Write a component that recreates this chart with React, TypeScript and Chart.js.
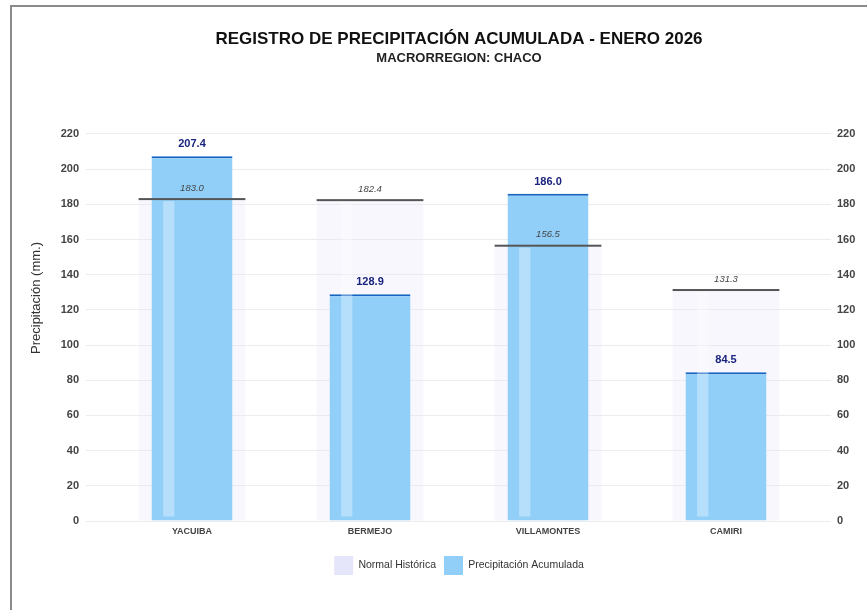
import React, { useEffect, useRef } from 'react';
import { Chart, registerables } from 'chart.js';

Chart.register(...registerables);

const TITLE = 'REGISTRO DE PRECIPITACIÓN ACUMULADA - ENERO 2026';
const SUBTITLE = 'MACRORREGION: CHACO';
const Y_TITLE = 'Precipitación (mm.)';

const categories = ['YACUIBA', 'BERMEJO', 'VILLAMONTES', 'CAMIRI'];
const normalLabel = 'Normal Histórica';
const precipLabel = 'Precipitación Acumulada';
const normalValues = [183.0, 182.4, 156.5, 131.3];
const precipValues = [207.4, 128.9, 186.0, 84.5];

const Y_MIN = 0;
const Y_MAX = 220;
const Y_STEP = 20;

const FONT = "'Liberation Sans', Arial, Helvetica, sans-serif";
const NORMAL_FILL = 'rgba(230,230,250,0.3)';
const NORMAL_LEGEND = '#e6e6fa';
const NORMAL_LINE = '#555555';
const PRECIP_FILL = '#91cff8';
const PRECIP_LINE = '#1565c0';

const overlayPlugin = {
  id: 'overlayPlugin',
  afterDatasetsDraw(chart: any) {
    const ctx = chart.ctx;
    const normMeta = chart.getDatasetMeta(0);
    const precMeta = chart.getDatasetMeta(1);
    ctx.save();
    // highlight stripe and top line of the normal bars
    normMeta.data.forEach((el: any) => {
      const { x, y, base, width } = el.getProps(['x', 'y', 'base', 'width'], true);
      const left = x - width / 2;
      ctx.fillStyle = 'rgba(255,255,255,0.33)';
      ctx.fillRect(left + width * 0.23, y + 2, width * 0.105, base - y - 6);
      ctx.fillStyle = NORMAL_LINE;
      ctx.fillRect(left, y - 1, width, 2);
    });
    ctx.textAlign = 'center';
    ctx.textBaseline = 'middle';
    normMeta.data.forEach((el: any, i: number) => {
      const { x, y } = el.getProps(['x', 'y'], true);
      ctx.font = `italic 9.5px ${FONT}`;
      ctx.fillStyle = '#444';
      ctx.fillText(normalValues[i].toFixed(1), x, y - 11);
    });
    precMeta.data.forEach((el: any, i: number) => {
      const { x, y } = el.getProps(['x', 'y'], true);
      ctx.font = `bold 11px ${FONT}`;
      ctx.fillStyle = '#1a237e';
      ctx.fillText(precipValues[i].toFixed(1), x, y - 12);
    });
    // y axis title
    const ca = chart.chartArea;
    ctx.translate(ca.left - 67, (ca.top + ca.bottom) / 2 - 29.5);
    ctx.rotate(-Math.PI / 2);
    ctx.font = `13px ${FONT}`;
    ctx.fillStyle = '#333';
    ctx.fillText(Y_TITLE, 0, 0);
    ctx.restore();
  },
};

export default function App() {
  const ref = useRef<HTMLCanvasElement>(null);
  useEffect(() => {
    document.body.style.overflow = 'hidden';
    Chart.defaults.font.family = FONT;
    const legendColors = [NORMAL_LEGEND, PRECIP_FILL];
    const chart = new Chart(ref.current as HTMLCanvasElement, {
      type: 'bar',
      data: {
        labels: categories,
        datasets: [
          {
            label: normalLabel,
            data: normalValues,
            backgroundColor: NORMAL_FILL,
            borderWidth: 0,
            barPercentage: 0.6,
            categoryPercentage: 1,
            grouped: false,
            order: 1,
          } as any,
          {
            label: precipLabel,
            data: precipValues,
            backgroundColor: PRECIP_FILL,
            borderColor: PRECIP_LINE,
            borderWidth: { top: 2, right: 0, bottom: 0, left: 0 },
            borderSkipped: false,
            barPercentage: 0.455,
            categoryPercentage: 1,
            grouped: false,
            order: 0,
          } as any,
        ],
      },
      options: {
        responsive: false,
        animation: false,
        devicePixelRatio: 1,
        layout: { padding: { top: 0, bottom: 25, left: 0, right: 0 } },
        plugins: {
          title: {
            display: true,
            text: TITLE,
            color: '#111',
            font: { size: 17, weight: 'bold' },
            padding: { top: 22, bottom: 1.4 },
          },
          subtitle: {
            display: true,
            text: SUBTITLE,
            color: '#222',
            font: { size: 13, weight: 'bold' },
            padding: { top: 0, bottom: 67.6 },
          },
          legend: {
            display: true,
            position: 'bottom',
            labels: {
              boxWidth: 19,
              boxHeight: 19,
              padding: 8,
              color: '#333',
              font: { size: 10.5 },
              sort: (a: any, b: any) => a.datasetIndex - b.datasetIndex,
              generateLabels: (c: any) => {
                const items = (Chart.defaults.plugins.legend.labels as any).generateLabels(c);
                items.forEach((it: any) => {
                  it.fillStyle = legendColors[it.datasetIndex];
                  it.strokeStyle = legendColors[it.datasetIndex];
                  it.lineWidth = 0;
                });
                return items;
              },
            },
          },
          tooltip: { enabled: false },
        },
        scales: {
          x: {
            grid: { display: false, drawTicks: false },
            border: { display: false },
            ticks: { color: '#444', font: { size: 9, weight: 'bold' }, padding: 5 },
            afterFit: (s: any) => { s.height = 27; },
          },
          y: {
            position: 'left',
            min: Y_MIN,
            max: Y_MAX,
            ticks: { stepSize: Y_STEP, color: '#444', font: { size: 11, weight: 'bold' }, padding: 7 },
            grid: { color: '#ececec', tickLength: 17 },
            border: { display: false },
            afterFit: (s: any) => { s.width = 91; },
          },
          y2: {
            position: 'right',
            min: Y_MIN,
            max: Y_MAX,
            ticks: { stepSize: Y_STEP, color: '#444', font: { size: 11, weight: 'bold' }, padding: 6 },
            grid: { color: '#ececec', tickLength: 16 },
            border: { display: false },
            afterFit: (s: any) => { s.width = 91; },
          },
        },
      } as any,
      plugins: [overlayPlugin],
    });
    return () => chart.destroy();
  }, []);

  return (
    <div
      style={{
        position: 'fixed',
        left: 10,
        top: 5,
        width: 920,
        height: 640,
        border: '2px solid #8a8a8a',
        boxSizing: 'border-box',
        overflow: 'hidden',
        background: '#fff',
      }}
    >
      <canvas ref={ref} width={894} height={603} style={{ display: 'block', width: 894, height: 603 }} />
    </div>
  );
}
